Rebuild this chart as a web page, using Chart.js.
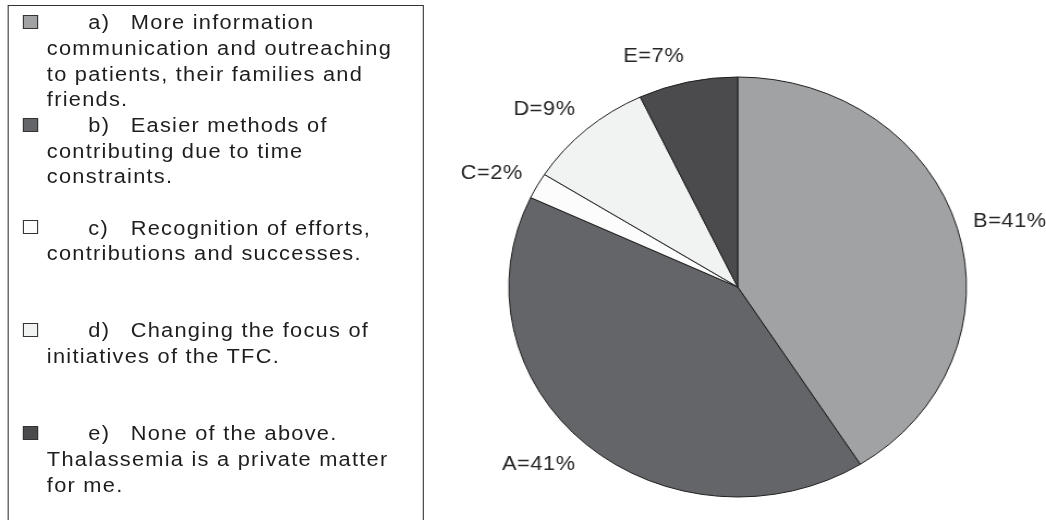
<!DOCTYPE html>
<html>
<head>
<meta charset="utf-8">
<script src="https://cdn.jsdelivr.net/npm/chart.js@4.4.1/dist/chart.umd.min.js"></script>
<style>
    html, body { margin: 0; padding: 0; background: #fff; overflow: hidden; }
    /* the figure is laid out at 960px and widened to the 1046px window */
    #stage {
        position: relative;
        width: 960px;
        height: 520px;
        transform: scaleX(1.0896);
        transform-origin: 0 0;
        font-family: 'Liberation Sans', Arial, sans-serif;
        color: #1e1e1e;
    }
    #pieChart { position: absolute; left: 0; top: 0; }
    #legendBox {
        position: absolute;
        left: 7px;
        top: 5px;
        width: 382px;
        height: 540px;
        border: 1.5px solid #333;
        box-sizing: border-box;
    }
    #legendText { position: absolute; left: 0; top: 10.2px; width: 389px; }
    .line {
        position: relative;
        height: 25.7px;
        line-height: 25.7px;
        font-size: 20px;
        letter-spacing: 1.15px;
        white-space: nowrap;
        padding-left: 43px;
    }
    .line.first { padding-left: 120px; }
    .swatch {
        position: absolute;
        left: 21px;
        top: 4.8px;
        width: 14px;
        height: 14px;
        border: 1px solid #333;
        box-sizing: border-box;
    }
    .marker { position: absolute; left: 81px; top: 0; }
</style>
</head>
<body>
<div id="stage">
    <canvas id="pieChart" width="960" height="520"></canvas>
    <div id="legendBox"></div>
    <div id="legendText"></div>
</div>
<script>
// Slices, clockwise from 12 o'clock
const sliceLabels = ['B', 'A', 'C', 'D', 'E'];
const sliceValues = [41, 41, 2, 9, 7];

// Legend entries (same order as the slices)
const legendMarkers = ['a)', 'b)', 'c)', 'd)', 'e)'];
const legendLines = [
    ['More information', 'communication and outreaching', 'to patients, their families and', 'friends.'],
    ['Easier methods of', 'contributing due to time', 'constraints.'],
    ['Recognition of efforts,', 'contributions and successes.'],
    ['Changing the focus of', 'initiatives of the TFC.'],
    ['None of the above.', 'Thalassemia is a private matter', 'for me.']
];

const sliceColors = ['#a1a2a4', '#646569', '#fcfcfc', '#f1f2f2', '#4b4b4e'];
// blank lines left above each legend entry
const legendGaps = [0, 0, 1, 2, 2];

// Legenda em HTML
function buildLegend() {
    const box = document.getElementById('legendText');
    legendLines.forEach((lines, i) => {
        for (let g = 0; g < legendGaps[i]; g++) {
            const blank = document.createElement('div');
            blank.className = 'line';
            box.appendChild(blank);
        }
        lines.forEach((text, j) => {
            const row = document.createElement('div');
            row.className = j === 0 ? 'line first' : 'line';
            if (j === 0) {
                const sw = document.createElement('span');
                sw.className = 'swatch';
                sw.style.background = sliceColors[i];
                row.appendChild(sw);
                const mk = document.createElement('span');
                mk.className = 'marker';
                mk.textContent = legendMarkers[i];
                row.appendChild(mk);
            }
            row.appendChild(document.createTextNode(text));
            box.appendChild(row);
        });
    });
}

// Rótulos "X=nn%" fora das fatias
const sliceLabelPlugin = {
    id: 'sliceLabels',
    afterDatasetsDraw(chart) {
        const ctx = chart.ctx;
        const meta = chart.getDatasetMeta(0);
        ctx.save();
        ctx.font = '20px "Liberation Sans", Arial, sans-serif';
        ctx.fillStyle = '#262626';
        ctx.textBaseline = 'middle';
        if ('letterSpacing' in ctx) ctx.letterSpacing = '0.5px';
        meta.data.forEach((arc, i) => {
            const p = arc.getProps(['x', 'y', 'startAngle', 'endAngle', 'outerRadius'], true);
            const mid = (p.startAngle + p.endAngle) / 2;
            const dx = Math.cos(mid);
            const dy = Math.sin(mid);
            const r = p.outerRadius + 15;
            const cx = p.x + dx * r;
            const cy = p.y + dy * r + dy * 11;
            ctx.textAlign = dx >= 0 ? 'left' : 'right';
            ctx.fillText(`${sliceLabels[i]}=${sliceValues[i]}%`, cx, cy);
        });
        ctx.restore();
    }
};

function createPieChart() {
    const ctx = document.getElementById('pieChart').getContext('2d');
    return new Chart(ctx, {
        type: 'pie',
        data: {
            labels: sliceLabels,
            datasets: [{
                data: sliceValues,
                backgroundColor: sliceColors,
                borderColor: '#1f1f1f',
                borderWidth: 1
            }]
        },
        options: {
            responsive: false,
            animation: false,
            layout: {
                padding: { left: 466.5, right: 72.5, top: 76.5, bottom: 22.5 }
            },
            plugins: {
                legend: { display: false },
                tooltip: { enabled: false }
            }
        },
        plugins: [sliceLabelPlugin]
    });
}

buildLegend();
createPieChart();
</script>
</body>
</html>
